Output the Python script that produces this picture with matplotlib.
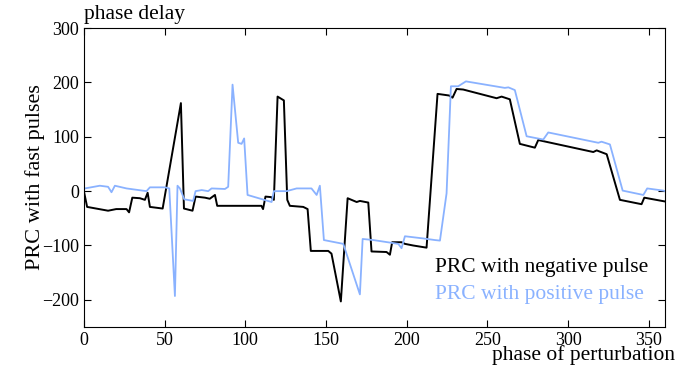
import matplotlib.pyplot as plt

plt.rcParams['font.family'] = ['Liberation Serif', 'DejaVu Serif']
plt.rcParams['mathtext.fontset'] = 'stix'

# PRC with negative pulse (black)
neg_phase = [0, 2, 15, 20, 26.4, 28, 30, 34.7, 37.8, 39.5, 40.9, 48.8, 60.1, 62, 67.3,
             69.2, 75, 78, 81.2, 82.6, 110, 111, 112.5, 116, 117.7, 120, 123.9, 126,
             127.6, 135.9, 138.6, 140.6, 151.4, 153.4, 159.2, 163.4, 169, 171, 176.2,
             178.2, 187.5, 189.6, 191, 196.8, 198.9, 204, 212.3, 219.1, 226.3, 228.4,
             230.9, 235, 255.7, 258.8, 263.9, 270.1, 279.4, 281.5, 315.6, 317.7, 323.9,
             332.1, 345.5, 347.2, 360]
neg_prc = [0, -29, -36, -33, -33, -39, -12, -13, -16, -3, -29, -32, 162, -32, -36,
           -10, -12, -14, -7, -27, -27, -33, -10, -11, -16, 174, 167, -16,
           -27, -29, -33, -110, -110, -115, -203, -13, -20, -18, -21,
           -111, -112, -117, -94, -94, -97, -100, -104, 179, 176, 172,
           188, 187, 171, 174, 169, 87, 80, 94, 72, 75, 68,
           -16, -24, -12, -19]

# PRC with positive pulse (light blue)
pos_phase = [0.6, 9.9, 15, 17.1, 19.2, 26.4, 38.8, 40.9, 50.2, 52.9, 56.4, 58, 59.5,
             62.2, 67.7, 69.2, 73, 77, 79.1, 87.4, 89.4, 92.1, 95.6, 97.7, 99.3, 101.4,
             116.3, 117.7, 125.6, 131.8, 141, 144.2, 146.2, 148.7, 160.7, 171, 172.7,
             179.3, 194.8, 196.8, 198.9, 210.2, 217.5, 220.6, 224.7, 227.4, 231.9,
             236.7, 260.8, 263, 267, 274.3, 284.6, 287.7, 318.7, 320.7, 325.9, 333.8,
             346.6, 349, 359, 360]
pos_prc = [5, 10, 8, -2, 10, 5, 0, 7, 7, 5, -193, 10, 5,
           -15, -18, 0, 2, 0, 5, 4, 8, 196, 89, 87, 97, -7,
           -20, 0, 0, 5, 5, -7, 10, -90, -97, -190, -88,
           -90, -97, -105, -83, -87, -90, -91, -4, 193, 193,
           202, 190, 191, 186, 101, 95, 108, 89, 91, 86, 1,
           -7, 5, 1, 0]

blue = '#8ab2ff'

fig = plt.figure(figsize=(6.82, 3.75), dpi=100)
ax = fig.add_axes([0.123, 0.128, 0.852, 0.797])

ax.plot(neg_phase, neg_prc, color='black', lw=1.4, label='PRC with negative pulse')
ax.plot(pos_phase, pos_prc, color=blue, lw=1.3, label='PRC with positive pulse')

ax.set_xlim(0, 360)
ax.set_ylim(-250, 300)
ax.set_xticks(range(0, 351, 50))
ax.set_yticks(range(-200, 301, 100))
ax.tick_params(direction='in', top=True, right=True, labelsize=13, length=5)
ax.set_ylabel('PRC with fast pulses', fontsize=16, labelpad=-2)

leg = ax.legend(loc='lower right', bbox_to_anchor=(1.004, 0.013), frameon=False,
                handlelength=0, handletextpad=0, labelcolor='linecolor',
                fontsize=15.5, labelspacing=0.3)
for h in leg.legend_handles:
    h.set_visible(False)

fig.text(0.123, 0.948, 'phase delay', fontsize=15.5, ha='left', va='baseline')
fig.text(0.99, 0.04, 'phase of perturbation', fontsize=15.5, ha='right', va='baseline')

fig.savefig('out.png', dpi=100)
